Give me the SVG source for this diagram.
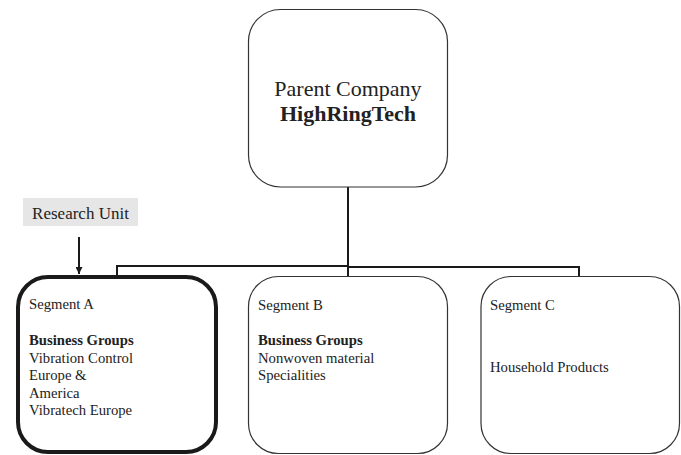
<svg xmlns="http://www.w3.org/2000/svg" width="681" height="455" viewBox="0 0 681 455">
<defs>
<style>
.box{fill:#fff;stroke:#333;stroke-width:1.2}
.thick{fill:#fff;stroke:#1a1a1a;stroke-width:4}
.ln{fill:none;stroke:#1a1a1a;stroke-width:2}
text{font-family:"Liberation Serif","Times New Roman",serif;fill:#222}
.t{font-size:14.7px}
.b{font-weight:bold}
</style>
<marker id="ah" viewBox="0 0 10 10" refX="10" refY="5" markerWidth="7" markerHeight="7" orient="auto" markerUnits="userSpaceOnUse">
<path d="M0,0 L10,5 L0,10 z" fill="#1a1a1a"/>
</marker>
</defs>
<rect width="681" height="455" fill="#fff"/>
<g id="connectors">
<path class="ln" d="M348,187 V277"/>
<path class="ln" d="M117,277 V266 H348"/>
<path class="ln" d="M348,267 H579 V277"/>
<path class="ln" d="M79,237 V274" marker-end="url(#ah)"/>
</g>
<g id="parent">
<rect class="box" x="248.5" y="9.5" width="199" height="177.5" rx="32"/>
<text x="348" y="96" text-anchor="middle" font-size="22">Parent Company</text>
<text x="348" y="121" text-anchor="middle" font-size="22" class="b">HighRingTech</text>
</g>
<g id="research">
<rect x="23" y="198" width="115" height="28" fill="#e6e6e6"/>
<text x="80.5" y="218.5" text-anchor="middle" font-size="17">Research Unit</text>
</g>
<g id="segA">
<rect class="thick" x="18" y="277" width="198" height="175" rx="30"/>
<text class="t" x="29" y="309">Segment A</text>
<text class="t b" x="29" y="345">Business Groups</text>
<text class="t" x="29" y="362.5">Vibration Control</text>
<text class="t" x="29" y="380">Europe &amp;</text>
<text class="t" x="29" y="397.5">America</text>
<text class="t" x="29" y="415">Vibratech Europe</text>
</g>
<g id="segB">
<rect class="box" x="248.5" y="276.5" width="199" height="177" rx="30"/>
<text class="t" x="258" y="310">Segment B</text>
<text class="t b" x="258" y="345">Business Groups</text>
<text class="t" x="258" y="362.5">Nonwoven material</text>
<text class="t" x="258" y="380">Specialities</text>
</g>
<g id="segC">
<rect class="box" x="481" y="276.5" width="198.5" height="177" rx="30"/>
<text class="t" x="490" y="310">Segment C</text>
<text class="t" x="490" y="372">Household Products</text>
</g>
</svg>
